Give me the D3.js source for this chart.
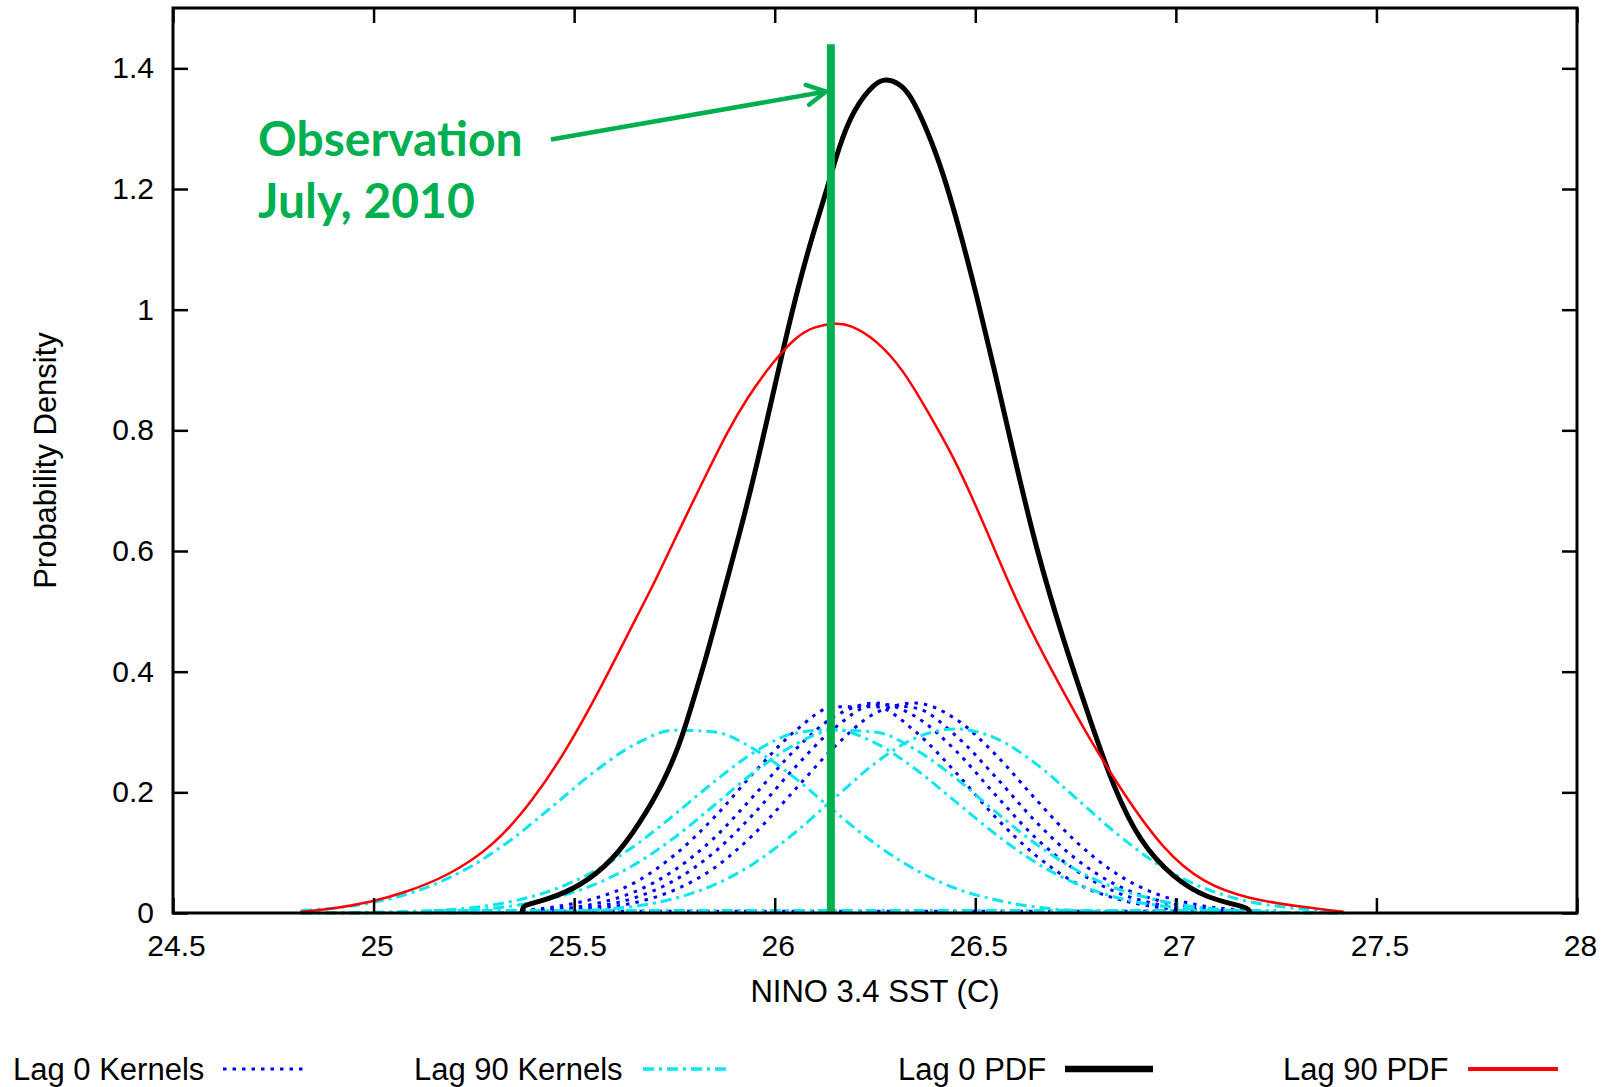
<!DOCTYPE html>
<html>
<head>
<meta charset="utf-8">
<script src="https://cdn.jsdelivr.net/npm/d3@7"></script>
<style>
  html, body { margin: 0; padding: 0; background: #fff; }
  svg { display: block; }
</style>
</head>
<body>
<svg id="chart" width="1614" height="1087"></svg>
<script>
// axis ticks
const xTicks = [24.5, 25, 25.5, 26, 26.5, 27, 27.5, 28];
const xTickLabels = ['24.5', '25', '25.5', '26', '26.5', '27', '27.5', '28'];
const yTicks = [0, 0.2, 0.4, 0.6, 0.8, 1, 1.2, 1.4];
const yTickLabels = ['0', '0.2', '0.4', '0.6', '0.8', '1', '1.2', '1.4'];

// Lag 0 PDF (black)
const lag0PdfX = [25.37, 25.372, 25.375, 25.432, 25.515, 25.598, 25.664, 25.722, 25.764, 25.789, 25.83, 25.872, 25.913, 25.955, 26.013, 26.059, 26.096, 26.13, 26.159, 26.196, 26.25, 26.279, 26.31, 26.337, 26.379, 26.42, 26.462, 26.504, 26.545, 26.595, 26.653, 26.719, 26.786, 26.844, 26.911, 26.994, 27.077, 27.177, 27.183, 27.185];
const lag0PdfY = [0.0, 0.008, 0.013, 0.022, 0.044, 0.088, 0.149, 0.215, 0.281, 0.335, 0.425, 0.530, 0.630, 0.740, 0.912, 1.040, 1.127, 1.199, 1.268, 1.332, 1.377, 1.383, 1.375, 1.358, 1.300, 1.227, 1.130, 1.022, 0.908, 0.762, 0.600, 0.453, 0.320, 0.209, 0.116, 0.058, 0.024, 0.010, 0.004, 0.0];

// Lag 90 PDF (red)
const lag90PdfX = [24.817, 24.891, 24.999, 25.074, 25.182, 25.299, 25.398, 25.481, 25.564, 25.639, 25.706, 25.764, 25.839, 25.88, 25.93, 25.997, 26.055, 26.096, 26.155, 26.188, 26.254, 26.321, 26.379, 26.445, 26.508, 26.537, 26.612, 26.703, 26.786, 26.869, 26.969, 27.069, 27.177, 27.31, 27.418];
const lag90PdfY = [0.002, 0.006, 0.019, 0.033, 0.06, 0.11, 0.187, 0.27, 0.37, 0.469, 0.555, 0.638, 0.740, 0.795, 0.853, 0.915, 0.956, 0.972, 0.978, 0.975, 0.95, 0.9, 0.834, 0.758, 0.665, 0.62, 0.502, 0.386, 0.287, 0.198, 0.104, 0.049, 0.024, 0.010, 0.002];

// Lag 0 kernels (blue dotted)
const lag0KernelX = [25.37, 25.45, 25.55, 25.65, 25.75, 25.85, 25.95, 26.05, 26.15, 26.25, 26.35, 26.45, 26.55, 26.65, 26.75, 26.85, 26.95, 27.05, 27.18];
const lag0KernelA = [0.004, 0.010, 0.024, 0.050, 0.096, 0.159, 0.234, 0.301, 0.342, 0.342, 0.301, 0.234, 0.159, 0.096, 0.050, 0.024, 0.010, 0.004, 0.001];
const lag0KernelB = [0.003, 0.006, 0.015, 0.035, 0.071, 0.125, 0.196, 0.270, 0.326, 0.348, 0.326, 0.270, 0.196, 0.125, 0.071, 0.035, 0.015, 0.006, 0.001];
const lag0KernelC = [0.002, 0.004, 0.010, 0.025, 0.054, 0.101, 0.166, 0.241, 0.307, 0.345, 0.340, 0.295, 0.226, 0.152, 0.090, 0.047, 0.022, 0.009, 0.002];
const lag0KernelD = [0.001, 0.002, 0.007, 0.017, 0.038, 0.075, 0.132, 0.204, 0.276, 0.331, 0.348, 0.322, 0.263, 0.189, 0.119, 0.066, 0.032, 0.014, 0.004];
const lag0BaseX = [25.45, 27.15];
const lag0BaseY = [0.003, 0.003];

// Lag 90 kernels (cyan dash-dot)
const lag90KernelX = [24.82, 24.95, 25.05, 25.15, 25.25, 25.35, 25.45, 25.55, 25.65, 25.75, 25.85, 25.95, 26.05, 26.15, 26.25, 26.35, 26.45, 26.55, 26.65, 26.75, 26.85, 26.95, 27.05, 27.15, 27.28, 27.42];
const lag90KernelA = [0.004, 0.012, 0.025, 0.047, 0.080, 0.125, 0.179, 0.234, 0.279, 0.303, 0.300, 0.271, 0.224, 0.168, 0.115, 0.072, 0.041, 0.022, 0.010, 0.004, 0.002, 0.001, 0.000, 0.000, 0.000, 0.000];
const lag90KernelB = [0.000, 0.001, 0.002, 0.004, 0.009, 0.020, 0.039, 0.069, 0.111, 0.163, 0.218, 0.267, 0.298, 0.304, 0.282, 0.239, 0.185, 0.131, 0.084, 0.049, 0.026, 0.013, 0.006, 0.002, 0.001, 0.000];
const lag90KernelC = [0.000, 0.000, 0.001, 0.002, 0.005, 0.012, 0.025, 0.047, 0.080, 0.125, 0.179, 0.234, 0.279, 0.303, 0.300, 0.271, 0.224, 0.168, 0.115, 0.072, 0.041, 0.022, 0.010, 0.004, 0.001, 0.000];
const lag90KernelD = [0.000, 0.000, 0.000, 0.000, 0.000, 0.001, 0.002, 0.005, 0.011, 0.024, 0.047, 0.083, 0.133, 0.191, 0.248, 0.290, 0.305, 0.290, 0.248, 0.191, 0.133, 0.083, 0.047, 0.024, 0.009, 0.002];
const lag90BaseX = [25.15, 27.25];
const lag90BaseY = [0.004, 0.004];

// observation annotation
const observationX = 26.14;
const observationTop = 1.44;
const arrowFrom = [25.442, 1.282];
const arrowTo = [26.128, 1.3615];
const noteAt = [24.712, 1.2554];
const noteLines = ['Observation', 'July, 2010'];

const legendLabels = ['Lag 0 Kernels', 'Lag 90 Kernels', 'Lag 0 PDF', 'Lag 90 PDF'];

// ---- drawing ----
const W = 1614, H = 1087;
const margin = { top: 8, right: 37, bottom: 174, left: 173 };
const font = '"Liberation Sans", Arial, Helvetica, sans-serif';
const green = '#00b050';
const blue = '#0000ff';
const cyan = '#0ae6f0';

const svg = d3.select('#chart');
svg.append('rect').attr('width', W).attr('height', H).attr('fill', '#fff');

const x = d3.scaleLinear().domain([24.5, 28]).range([margin.left, W - margin.right]);
const y = d3.scaleLinear().domain([0, 1.5]).range([H - margin.bottom, margin.top]);

const zip = (xs, ys) => xs.map((v, i) => [v, ys[i]]);
const kernelLine = d3.line()
  .x(d => x(d[0]))
  .y(d => y(d[1]))
  .curve(d3.curveMonotoneX);
// the PDFs are hand-read, so smooth them a bit
const pdfLine = d3.line()
  .x(d => x(d[0]))
  .y(d => y(d[1]))
  .curve(d3.curveBasis);

const styles = {
  lag0K: { stroke: blue, width: 3, dash: '3.5 6' },
  lag90K: { stroke: cyan, width: 3, dash: '11 5 3 5' },
  lag0P: { stroke: '#000', width: 5, dash: null },
  lag90P: { stroke: '#ff0000', width: 2.5, dash: null }
};

const plot = svg.append('g');
const drawCurve = (xs, ys, st, gen) => {
  plot.append('path')
    .datum(zip(xs, ys))
    .attr('d', gen)
    .attr('fill', 'none')
    .attr('stroke', st.stroke)
    .attr('stroke-width', st.width)
    .attr('stroke-dasharray', st.dash)
    .attr('stroke-linejoin', 'round');
};

[lag0KernelA, lag0KernelB, lag0KernelC, lag0KernelD].forEach(ys => drawCurve(lag0KernelX, ys, styles.lag0K, kernelLine));
drawCurve(lag0BaseX, lag0BaseY, styles.lag0K, kernelLine);
[lag90KernelA, lag90KernelB, lag90KernelC, lag90KernelD].forEach(ys => drawCurve(lag90KernelX, ys, styles.lag90K, kernelLine));
drawCurve(lag90BaseX, lag90BaseY, styles.lag90K, kernelLine);
drawCurve(lag0PdfX, lag0PdfY, styles.lag0P, pdfLine);
drawCurve(lag90PdfX, lag90PdfY, styles.lag90P, pdfLine);

// observation line
svg.append('line')
  .attr('x1', x(observationX)).attr('x2', x(observationX))
  .attr('y1', y(0)).attr('y2', y(observationTop))
  .attr('stroke', green).attr('stroke-width', 8);

// frame
svg.append('rect')
  .attr('x', x(24.5)).attr('y', y(1.5))
  .attr('width', x(28) - x(24.5)).attr('height', y(0) - y(1.5))
  .attr('fill', 'none').attr('stroke', '#000').attr('stroke-width', 3);

const styleAxis = g => {
  g.select('.domain').remove();
  g.attr('font-family', font).attr('font-size', 30);
  g.selectAll('.tick line').attr('stroke', '#000').attr('stroke-width', 2.5);
  g.selectAll('.tick text').attr('fill', '#000');
};

svg.append('g')
  .attr('transform', `translate(0,${y(0)})`)
  .call(d3.axisBottom(x).tickValues(xTicks).tickFormat((d, i) => xTickLabels[i]).tickSize(-15).tickPadding(22))
  .call(styleAxis)
  .selectAll('.tick text').attr('dx', 3);

svg.append('g')
  .attr('transform', `translate(0,${y(1.5)})`)
  .call(d3.axisTop(x).tickValues(xTicks).tickFormat('').tickSize(-15))
  .call(styleAxis);

svg.append('g')
  .attr('transform', `translate(${x(24.5)},0)`)
  .call(d3.axisLeft(y).tickValues(yTicks).tickFormat((d, i) => yTickLabels[i]).tickSize(-15).tickPadding(19))
  .call(styleAxis);

svg.append('g')
  .attr('transform', `translate(${x(28)},0)`)
  .call(d3.axisRight(y).tickValues(yTicks).tickFormat('').tickSize(-15))
  .call(styleAxis);

// axis titles
svg.append('text')
  .attr('x', (x(24.5) + x(28)) / 2).attr('y', 1002)
  .attr('text-anchor', 'middle')
  .attr('font-family', font).attr('font-size', 31)
  .text('NINO 3.4 SST (C)');

svg.append('text')
  .attr('transform', `translate(56,${(y(0) + y(1.5)) / 2}) rotate(-90)`)
  .attr('text-anchor', 'middle')
  .attr('font-family', font).attr('font-size', 31)
  .text('Probability Density');

// arrow + note
svg.append('defs').append('marker')
  .attr('id', 'head')
  .attr('markerUnits', 'userSpaceOnUse')
  .attr('viewBox', '-24 -14 28 28')
  .attr('markerWidth', 28).attr('markerHeight', 28)
  .attr('refX', 0).attr('refY', 0)
  .attr('orient', 'auto')
  .append('path')
  .attr('d', 'M-19,-10 L0,0 L-19,10')
  .attr('fill', 'none').attr('stroke', green).attr('stroke-width', 4.5)
  .attr('stroke-linecap', 'round').attr('stroke-linejoin', 'round');

svg.append('line')
  .attr('x1', x(arrowFrom[0])).attr('y1', y(arrowFrom[1]))
  .attr('x2', x(arrowTo[0])).attr('y2', y(arrowTo[1]))
  .attr('stroke', green).attr('stroke-width', 4.5)
  .attr('marker-end', 'url(#head)');

svg.append('g')
  .selectAll('text')
  .data(noteLines)
  .join('text')
  .attr('x', x(noteAt[0]))
  .attr('y', (d, i) => y(noteAt[1]) + i * 62)
  .attr('font-family', 'Lato, "Open Sans", sans-serif')
  .attr('font-weight', 'bold')
  .attr('font-size', 48)
  .attr('fill', green)
  .text(d => d);

// legend
const legendLayout = [
  { tx: 13, lx1: 223, lx2: 307, st: styles.lag0K, w: 3 },
  { tx: 414, lx1: 643, lx2: 731, st: styles.lag90K, w: 3.5 },
  { tx: 898, lx1: 1065, lx2: 1153, st: styles.lag0P, w: 6.5 },
  { tx: 1283, lx1: 1468, lx2: 1558, st: styles.lag90P, w: 4 }
];
const legend = svg.append('g');
legendLabels.forEach((label, i) => {
  const L = legendLayout[i];
  legend.append('text')
    .attr('x', L.tx).attr('y', 1080)
    .attr('font-family', font).attr('font-size', 31)
    .text(label);
  legend.append('line')
    .attr('x1', L.lx1).attr('x2', L.lx2)
    .attr('y1', 1069).attr('y2', 1069)
    .attr('stroke', L.st.stroke)
    .attr('stroke-width', L.w)
    .attr('stroke-dasharray', L.st.dash);
});
</script>
</body>
</html>
